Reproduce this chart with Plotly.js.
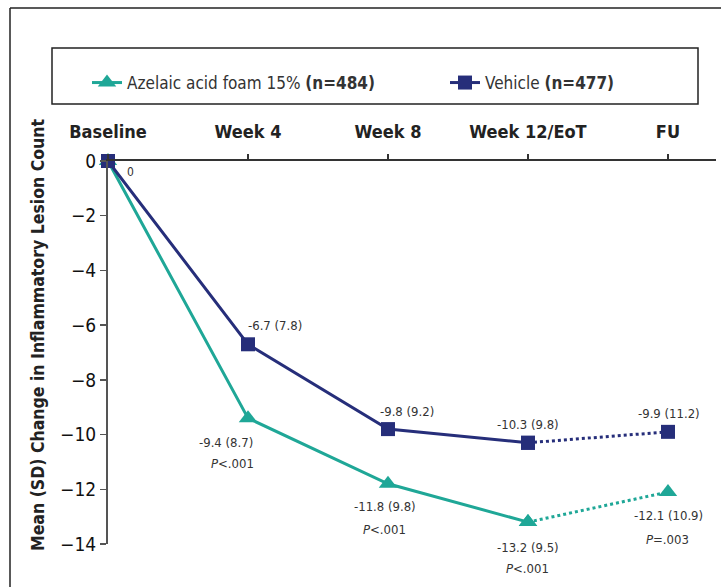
<!DOCTYPE html>
<html>
<head>
<meta charset="utf-8">
<script src="https://cdn.plot.ly/plotly-3.0.1.min.js"></script>
<style>html,body{margin:0;padding:0;background:#fff;}#chart{width:721px;height:587px;}</style>
</head>
<body>
<div id="chart"></div>
<script>
const categories = ['Baseline', 'Week 4', 'Week 8', 'Week 12/EoT', 'FU'];
const azelaicMean = [0, -9.4, -11.8, -13.2, -12.1];
const azelaicSD = [null, 8.7, 9.8, 9.5, 10.9];
const azelaicP = [null, 'P<.001', 'P<.001', 'P<.001', 'P=.003'];
const vehicleMean = [0, -6.7, -9.8, -10.3, -9.9];
const vehicleSD = [null, 7.8, 9.2, 9.8, 11.2];
const yTicks = [0, -2, -4, -6, -8, -10, -12, -14];
const azelaicName = 'Azelaic acid foam 15% <b>(n=484)</b>';
const vehicleName = 'Vehicle <b>(n=477)</b>';

const FONT = '"Liberation Sans Narrow", "DejaVu Sans Condensed", "Roboto Condensed", "Liberation Sans", sans-serif';
const TEAL = '#1fa797';
const NAVY = '#262e7a';

const solidIdx = [0, 1, 2, 3];
const dotIdx = [3, 4];
const pick = (arr, idx) => idx.map(i => arr[i]);

const traces = [
  {x: pick(categories, solidIdx), y: pick(azelaicMean, solidIdx), name: azelaicName, mode: 'lines+markers', legend: 'legend',
   line: {color: TEAL, width: 3}, marker: {symbol: 'triangle-up', size: 16, color: TEAL}, cliponaxis: false},
  {x: pick(categories, dotIdx), y: pick(azelaicMean, dotIdx), mode: 'lines+markers', showlegend: false,
   line: {color: TEAL, width: 3, dash: 'dot'}, marker: {symbol: 'triangle-up', size: 16, color: TEAL}, cliponaxis: false},
  {x: pick(categories, solidIdx), y: pick(vehicleMean, solidIdx), name: vehicleName, mode: 'lines+markers', legend: 'legend2',
   line: {color: NAVY, width: 3}, marker: {symbol: 'square', size: 14, color: NAVY}, cliponaxis: false},
  {x: pick(categories, dotIdx), y: pick(vehicleMean, dotIdx), mode: 'lines+markers', showlegend: false,
   line: {color: NAVY, width: 3, dash: 'dot'}, marker: {symbol: 'square', size: 14, color: NAVY}, cliponaxis: false}
];

const annFont = {family: FONT, size: 13, color: '#333'};
const annotations = [];
// baseline "0"
annotations.push({x: categories[0], y: 0, xref: 'x', yref: 'y', text: '0', showarrow: false,
  xshift: 22, yshift: -11, font: {family: FONT, size: 12, color: '#333'}});
const vehShift = [null, [27, 19], [19, 18], [0, 18], [1, 18]];
const azeShift = [null, [-22, -24], [-3, -23], [0, -25], [1, -23]];
const pShift = [null, [-16, -45], [-3, -46], [0, -46], [0, -47]];
for (let i = 1; i < categories.length; i++) {
  annotations.push({x: categories[i], y: vehicleMean[i], xref: 'x', yref: 'y', showarrow: false,
    text: vehicleMean[i].toFixed(1) + ' (' + vehicleSD[i].toFixed(1) + ')',
    xshift: vehShift[i][0], yshift: vehShift[i][1], font: annFont});
  annotations.push({x: categories[i], y: azelaicMean[i], xref: 'x', yref: 'y', showarrow: false,
    text: azelaicMean[i].toFixed(1) + ' (' + azelaicSD[i].toFixed(1) + ')',
    xshift: azeShift[i][0], yshift: azeShift[i][1], font: annFont});
  annotations.push({x: categories[i], y: azelaicMean[i], xref: 'x', yref: 'y', showarrow: false,
    text: '<i>P</i>' + azelaicP[i].slice(1).replace('<', '&lt;'),
    xshift: pShift[i][0], yshift: pShift[i][1], font: annFont});
}
// y-axis title as rotated annotation
annotations.push({xref: 'paper', yref: 'paper', x: (38 - 108) / 608, y: (544 - 335) / 383, showarrow: false,
  xanchor: 'center', yanchor: 'middle',
  textangle: -90, text: '<b>Mean (SD) Change in Inflammatory Lesion Count</b>',
  font: {family: FONT, size: 17.5, color: '#222'}});

const px = v => (v - 108) / 608;
const py = v => (544 - v) / 383;
const shapes = [
  {type: 'line', xref: 'paper', yref: 'paper', x0: px(10), x1: px(10), y0: py(8), y1: py(600), line: {color: '#222', width: 1.5}},
  {type: 'line', xref: 'paper', yref: 'paper', x0: px(10), x1: px(730), y0: py(8), y1: py(8), line: {color: '#222', width: 1.5}},
  {type: 'rect', xref: 'paper', yref: 'paper', x0: px(52), x1: px(698), y0: py(48), y1: py(104), line: {color: '#222', width: 1.5}}
];

const legendFont = {family: FONT, size: 17, color: '#333'};
const layout = {
  width: 721, height: 587,
  margin: {l: 108, r: 5, t: 161, b: 43},
  paper_bgcolor: '#fff', plot_bgcolor: '#fff',
  font: {family: FONT, color: '#222'},
  showlegend: true,
  legend: {orientation: 'h', x: px(87), y: py(65), xanchor: 'left', yanchor: 'top',
    font: legendFont, bgcolor: 'rgba(0,0,0,0)', borderwidth: 0},
  legend2: {orientation: 'h', x: px(445), y: py(65), xanchor: 'left', yanchor: 'top',
    font: legendFont, bgcolor: 'rgba(0,0,0,0)', borderwidth: 0},
  xaxis: {type: 'category', side: 'top', range: [0, 4.343], showgrid: false, zeroline: false,
    showline: true, linecolor: '#333', linewidth: 2,
    ticks: 'outside', ticklen: 5, tickcolor: '#333', tickwidth: 1.5,
    tickfont: {family: FONT, size: 18, color: '#222', weight: 'bold'}, ticklabelstandoff: 9},
  yaxis: {range: [-14, 0], tickvals: yTicks, showgrid: false, zeroline: false,
    showline: true, linecolor: '#555', linewidth: 2,
    ticks: 'outside', ticklen: 6, tickcolor: '#555', tickwidth: 1.5,
    tickfont: {family: FONT, size: 19, color: '#111'}},
  annotations: annotations,
  shapes: shapes
};

Plotly.newPlot('chart', traces, layout, {displayModeBar: false, staticPlot: true});
</script>
</body>
</html>
